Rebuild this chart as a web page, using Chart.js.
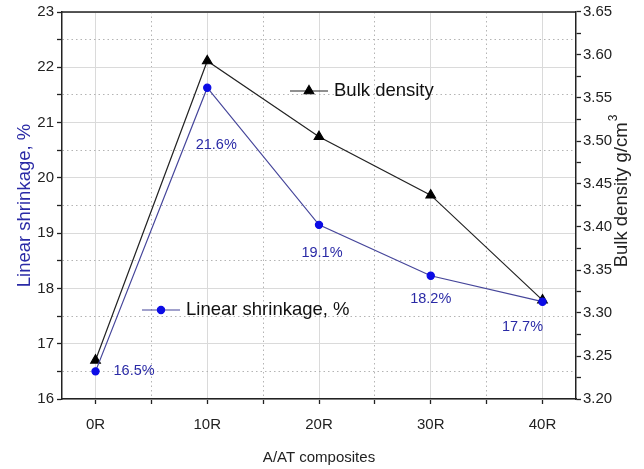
<!DOCTYPE html>
<html>
<head>
<meta charset="utf-8">
<script src="https://cdn.jsdelivr.net/npm/chart.js@4.4.1/dist/chart.umd.min.js"></script>
<style>
html, body { margin: 0; padding: 0; background: #fff; }
#wrap { width: 644px; height: 469px; }
</style>
</head>
<body>
<div id="wrap"><canvas id="chart"></canvas></div>
<script>
'use strict';

// data
const categories = ['0R', '10R', '20R', '30R', '40R'];
const shrinkage = [16.5, 21.63, 19.15, 18.23, 17.76];
const shrinkageLabels = ['16.5%', '21.6%', '19.1%', '18.2%', '17.7%'];
const density = [3.245, 3.593, 3.505, 3.437, 3.315];
const shrinkRange = [16, 23];
const densityRange = [3.20, 3.65];

const FONT = '"Liberation Sans", Arial, sans-serif';
const BLUE_TEXT = '#2a2aa6';
const SHRINK_LINE = '#45459a';
const SHRINK_DOT = '#0c0ce6';

const isWhole = v => Math.abs(v - Math.round(v)) < 1e-6;
const gridColor = ctx => ctx.tick && isWhole(ctx.tick.value) ? '#dadada' : '#b4b4b4';
const gridDash = ctx => ctx.tick && !isWhole(ctx.tick.value) ? [1.5, 3] : [];

const toPoints = arr => arr.map((v, i) => ({x: i, y: v}));

// value labels, floating legends, top frame and the right axis title (reads bottom-to-top)
const extrasPlugin = {
    id: 'extras',
    afterDraw(chart) {
        const ctx = chart.ctx;
        const area = chart.chartArea;
        const xs = chart.scales.x;
        const ys = chart.scales.y;

        ctx.save();
        ctx.strokeStyle = '#222';
        ctx.lineWidth = 1.5;
        ctx.beginPath();
        ctx.moveTo(area.left, area.top);
        ctx.lineTo(area.right, area.top);
        ctx.stroke();

        const offsets = [[18, 0, 'left'], [9, 57, 'center'], [3, 28, 'center'], [0, 23, 'center'], [-20, 25, 'center']];
        ctx.font = '14.5px ' + FONT;
        ctx.fillStyle = BLUE_TEXT;
        ctx.textBaseline = 'middle';
        shrinkageLabels.forEach((txt, i) => {
            const px = xs.getPixelForValue(i);
            const py = ys.getPixelForValue(shrinkage[i]);
            ctx.textAlign = offsets[i][2];
            ctx.fillText(txt, px + offsets[i][0], py + offsets[i][1]);
        });

        const drawKey = (ds, x, y, label) => {
            ctx.strokeStyle = ds.borderColor;
            ctx.lineWidth = 1.2;
            ctx.beginPath();
            ctx.moveTo(x, y);
            ctx.lineTo(x + 38, y);
            ctx.stroke();
            ctx.fillStyle = ds.pointBackgroundColor;
            ctx.strokeStyle = ds.pointBorderColor;
            Chart.helpers.drawPoint(ctx, {
                pointStyle: ds.pointStyle,
                radius: ds.pointRadius,
                borderWidth: 1,
            }, x + 19, y);
            ctx.fillStyle = '#111';
            ctx.font = '18.5px ' + FONT;
            ctx.textAlign = 'left';
            ctx.fillText(label, x + 44, y);
        };
        drawKey(chart.data.datasets[1], area.left + 228, area.top + 79, 'Bulk density');
        drawKey(chart.data.datasets[0], area.left + 80, area.top + 298, 'Linear shrinkage, %');

        // right title with a real superscript
        const main = 'Bulk density g/cm';
        ctx.translate(area.right + 46, (area.top + area.bottom) / 2 - 14);
        ctx.rotate(-Math.PI / 2);
        ctx.font = '18.5px ' + FONT;
        const w = ctx.measureText(main).width;
        ctx.font = '12px ' + FONT;
        const w3 = ctx.measureText('3').width;
        const start = -(w + w3) / 2;
        ctx.fillStyle = '#222';
        ctx.textAlign = 'left';
        ctx.textBaseline = 'middle';
        ctx.font = '18.5px ' + FONT;
        ctx.fillText(main, start, 0);
        ctx.font = '12px ' + FONT;
        ctx.fillText('3', start + w + 1, -8);
        ctx.restore();
    }
};

const chart = new Chart(document.getElementById('chart'), {
    type: 'line',
    data: {
        datasets: [{
            label: 'Linear shrinkage, %',
            data: toPoints(shrinkage),
            yAxisID: 'y',
            borderColor: SHRINK_LINE,
            borderWidth: 1.2,
            pointStyle: 'circle',
            pointRadius: 3.6,
            pointBackgroundColor: SHRINK_DOT,
            pointBorderColor: SHRINK_DOT,
            tension: 0
        }, {
            label: 'Bulk density',
            data: toPoints(density),
            yAxisID: 'y2',
            borderColor: '#222',
            borderWidth: 1.2,
            pointStyle: 'triangle',
            pointRadius: 5.5,
            pointBackgroundColor: '#000',
            pointBorderColor: '#000',
            tension: 0
        }]
    },
    options: {
        responsive: true,
        maintainAspectRatio: false,
        animation: false,
        layout: { padding: { top: 11 } },
        plugins: {
            legend: { display: false },
            tooltip: { enabled: false }
        },
        scales: {
            x: {
                type: 'linear',
                min: -0.3,
                max: 4.3,
                afterFit: s => { s.height = 70; },
                ticks: {
                    stepSize: 0.5,
                    includeBounds: false,
                    autoSkip: false,
                    maxRotation: 0,
                    padding: 12,
                    color: '#222',
                    font: { family: FONT, size: 15 },
                    callback: v => isWhole(v) ? categories[Math.round(v)] : ''
                },
                grid: {
                    color: gridColor,
                    lineWidth: 1,
                    tickColor: '#222',
                    tickLength: 5,
                    tickWidth: 1.3
                },
                border: { color: '#222', width: 1.5, dash: gridDash },
                title: {
                    display: true,
                    text: 'A/AT composites',
                    color: '#222',
                    font: { family: FONT, size: 15 },
                    padding: { top: 0, bottom: 2 }
                }
            },
            y: {
                position: 'left',
                min: shrinkRange[0],
                max: shrinkRange[1],
                afterFit: s => { s.width = 62; },
                ticks: {
                    stepSize: 0.5,
                    padding: 3,
                    color: '#222',
                    font: { family: FONT, size: 15 },
                    callback: v => isWhole(v) ? String(Math.round(v)) : ''
                },
                grid: {
                    color: gridColor,
                    lineWidth: 1,
                    tickColor: '#222',
                    tickLength: 5,
                    tickWidth: 1.3
                },
                border: { color: '#222', width: 1.5, dash: gridDash },
                title: {
                    display: true,
                    text: 'Linear shrinkage, %',
                    color: BLUE_TEXT,
                    font: { family: FONT, size: 18.5 },
                    padding: { top: 14, bottom: 0 }
                }
            },
            y2: {
                position: 'right',
                min: densityRange[0],
                max: densityRange[1],
                afterFit: s => { s.width = 68; },
                afterBuildTicks: s => {
                    s.ticks = [];
                    for (let i = 0; i <= 18; i++) s.ticks.push({value: densityRange[0] + i * 0.025});
                },
                ticks: {
                    autoSkip: false,
                    padding: 2,
                    color: '#222',
                    font: { family: FONT, size: 15 },
                    callback: (v, i) => i % 2 === 0 ? v.toFixed(2) : ''
                },
                grid: {
                    drawOnChartArea: false,
                    tickColor: '#222',
                    tickLength: 5,
                    tickWidth: 1.3
                },
                border: { color: '#222', width: 1.5 }
            }
        }
    },
    plugins: [extrasPlugin]
});
</script>
</body>
</html>
